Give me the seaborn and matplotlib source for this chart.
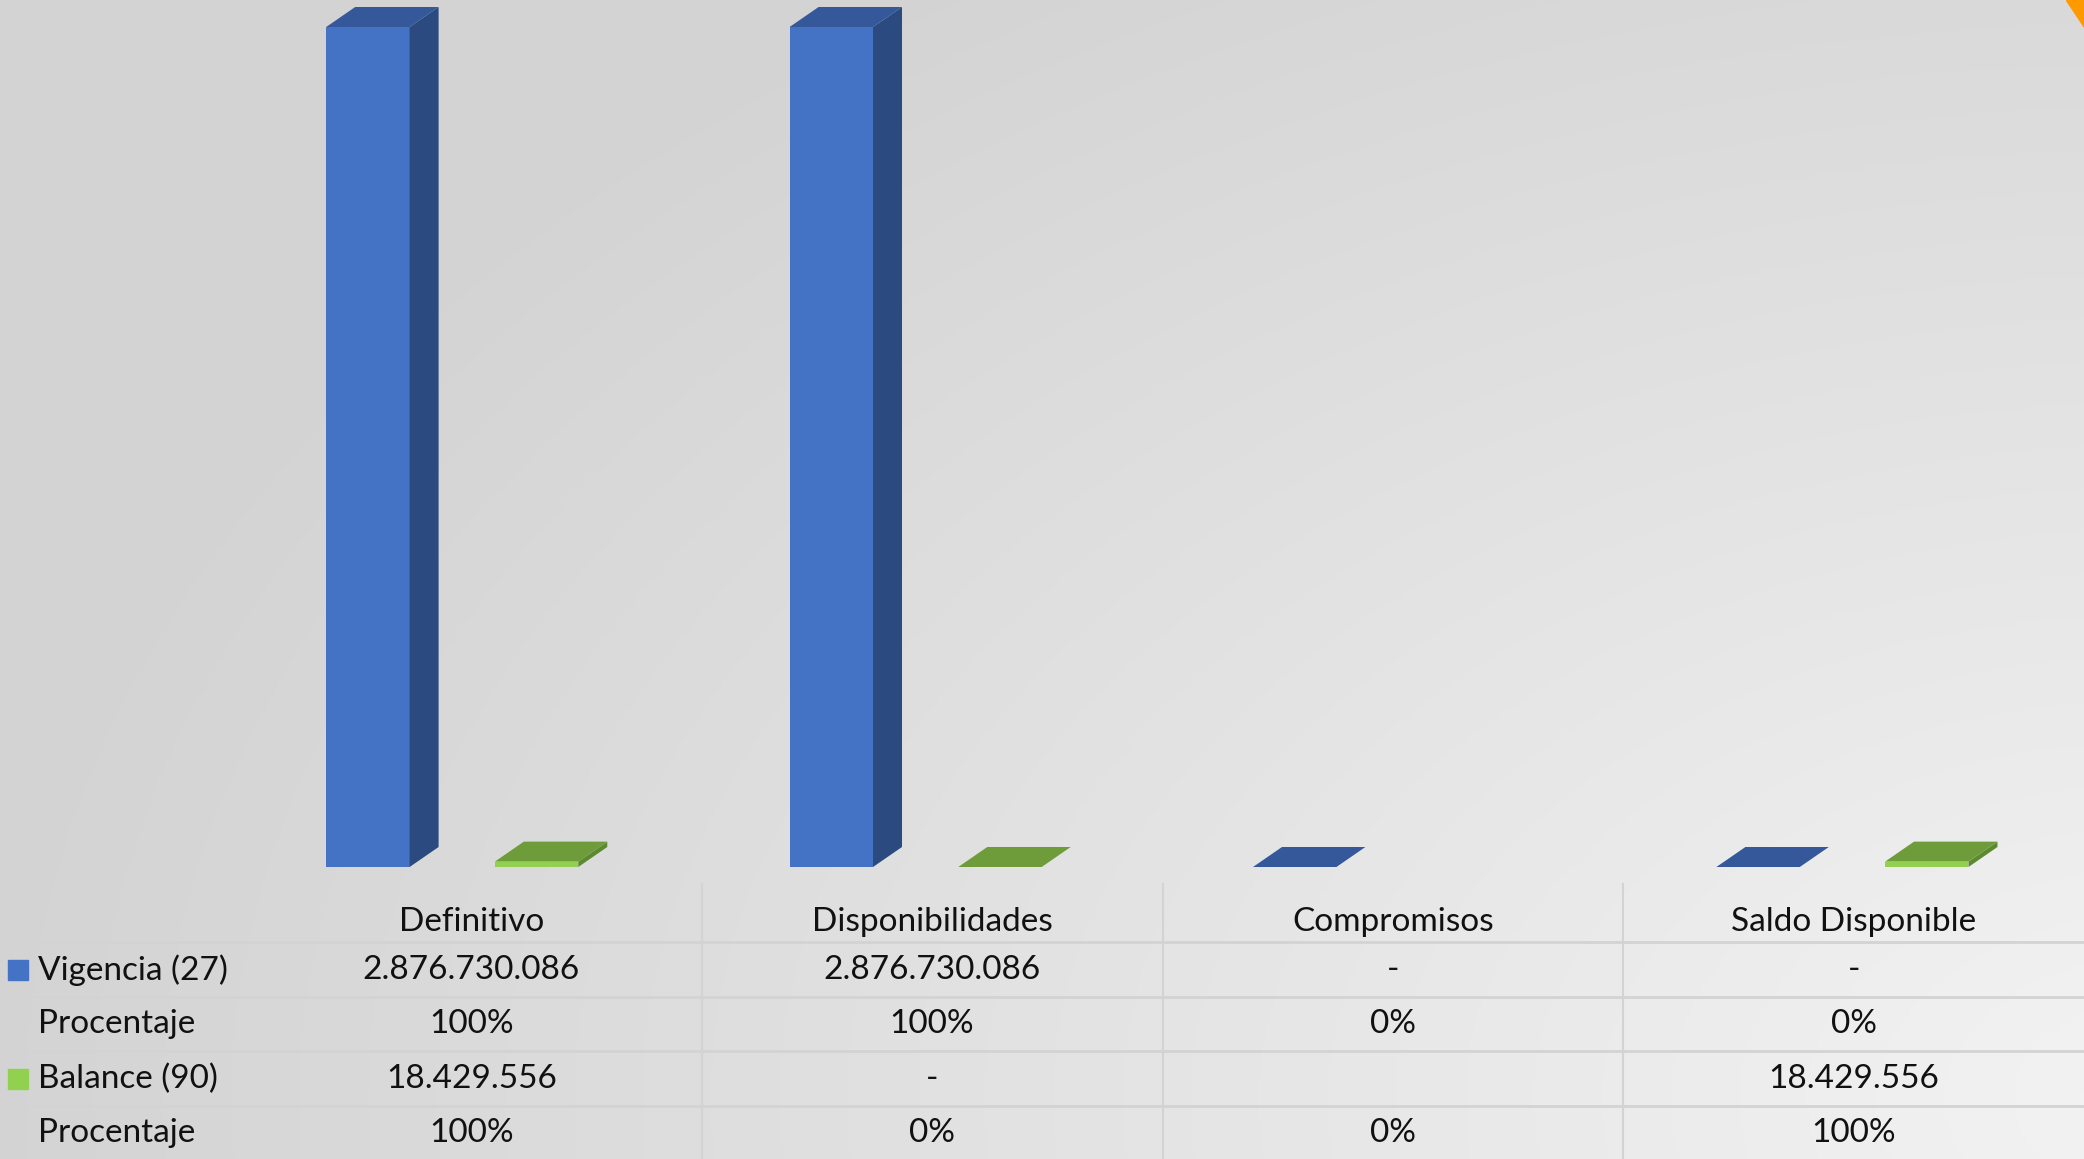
import numpy as np
import pandas as pd
import matplotlib.pyplot as plt
import seaborn as sns
from matplotlib.patches import Polygon, Rectangle
from matplotlib.lines import Line2D
from matplotlib.colors import to_rgba
from matplotlib.transforms import blended_transform_factory

# --- data ---
categorias = ["Definitivo", "Disponibilidades", "Compromisos", "Saldo Disponible"]
series = ["Vigencia (27)", "Balance (90)"]
vigencia = [2876730086, 2876730086, 0, 0]
balance = [18429556, 0, np.nan, 18429556]
pct_vigencia = ["100%", "100%", "0%", "0%"]
pct_balance = ["100%", "0%", "0%", "100%"]

front = {"Vigencia (27)": "#4472C4", "Balance (90)": "#92D050"}
top = {"Vigencia (27)": "#34589A", "Balance (90)": "#6E9C3A"}
side = {"Vigencia (27)": "#2A4A80", "Balance (90)": "#5C8A30"}

df = pd.DataFrame({
    "categoria": categorias * 2,
    "serie": [series[0]] * 4 + [series[1]] * 4,
    "valor": vigencia + balance,
}).dropna()

W, H = 2084, 1159
fig = plt.figure(figsize=(W / 100, H / 100), dpi=100)

# background gradient (slide look)
bg = fig.add_axes([0, 0, 1, 1])
bg.axis("off")
yy, xx = np.mgrid[0:1:300j, 0:1:540j]
d = np.sqrt(((xx - 1.05) * 1.0) ** 2 + ((yy - 0.95) * 0.9) ** 2)
d = np.clip(d / 1.05, 0, 1)
c0, c1 = np.array([0.955, 0.955, 0.955]), np.array([0.83, 0.83, 0.83])
img = c0 + (c1 - c0) * d[..., None]
bg.imshow(img, aspect="auto", extent=[0, 1, 0, 1], origin="upper")
bg.set_xlim(0, 1)
bg.set_ylim(0, 1)
bg.add_patch(Polygon([(2066 / W, 1), (1, 1), (1, 1 - 27 / H)], closed=True,
                     color="#FF9900", transform=fig.transFigure))

# --- bars ---
base_px, top_px = 867, 27
unit = 463.4          # px per category in the plot area
left = 240
ax = fig.add_axes([left / W, 1 - base_px / H, 4 * unit / W, base_px / H])
ax.patch.set_alpha(0)
sns.barplot(data=df, x="categoria", y="valor", hue="serie", order=categorias,
            hue_order=series, palette=front, width=0.728, saturation=1,
            errorbar=None, legend=False, ax=ax)
ymax = max(vigencia) * base_px / (base_px - top_px)
ax.set_xlim(-0.5, 3.5)
ax.set_ylim(0, ymax)
ax.axis("off")

dx = 29 / unit
dy = 20 / base_px * ymax
bw = 0.18
for p in list(ax.patches):
    h = p.get_height()
    if np.isnan(h):
        continue
    s = series[0] if np.allclose(p.get_facecolor(), to_rgba(front[series[0]])) else series[1]
    cx = p.get_x() + p.get_width() / 2
    x0 = cx - bw / 2 - 0.042
    p.set_x(x0)
    p.set_width(bw)
    p.set_edgecolor("none")
    ax.add_patch(Polygon([(x0 + bw, 0), (x0 + bw + dx, dy), (x0 + bw + dx, h + dy), (x0 + bw, h)],
                         closed=True, facecolor=side[s], edgecolor="none"))
    ax.add_patch(Polygon([(x0, h), (x0 + bw, h), (x0 + bw + dx, h + dy), (x0 + dx, h + dy)],
                         closed=True, facecolor=top[s], edgecolor="none"))

# --- data table ---
tab = fig.add_axes([241 / W, 0, (W - 241) / W, 1 - base_px / H])
tab.set_xlim(-0.5, 3.5)
tab.axis("off")

def fmt(v):
    if pd.isna(v):
        return ""
    if v == 0:
        return "-"
    return f"{v:,.0f}".replace(",", ".")

rows = [
    (series[0], [fmt(v) for v in vigencia], front[series[0]]),
    ("Procentaje", pct_vigencia, None),
    (series[1], [fmt(v) for v in balance], front[series[1]]),
    ("Procentaje", pct_balance, None),
]
font = dict(family="Lato", size=24, color="#111111")
tr = blended_transform_factory(tab.transData, fig.transFigure)

header_y = 922
row_y = [970, 1024, 1079, 1133]
line_y = [942, 997, 1051, 1106]

for i, cat in enumerate(categorias):
    fig.text(i, 1 - header_y / H, cat, transform=tr, ha="center", va="center", **font)
for (label, vals, col), y in zip(rows, row_y):
    fig.text(38 / W, 1 - y / H, label, ha="left", va="center", **font)
    if col:
        fig.add_artist(Rectangle((8 / W, 1 - (y + 10) / H), 20 / W, 20 / H,
                                 transform=fig.transFigure, color=col))
    for i, v in enumerate(vals):
        fig.text(i, 1 - y / H, v, transform=tr, ha="center", va="center", **font)

for y in line_y:
    fig.add_artist(Line2D([0, 1], [1 - y / H] * 2, transform=fig.transFigure,
                          color="#D3D3D3", lw=2))
for i in range(len(categorias) - 1):
    fig.add_artist(Line2D([i + 0.5, i + 0.5], [1 - 884 / H, 0], transform=tr,
                          color="#D3D3D3", lw=1.5))

fig.savefig("out.png", dpi=100)
